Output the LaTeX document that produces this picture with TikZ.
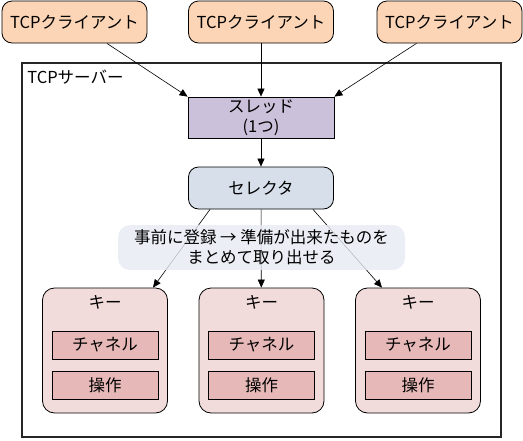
\documentclass[tikz,border=0pt]{standalone}
\usepackage{fontspec}
\setmainfont{Noto Sans CJK JP}
\usepackage{xcolor}
\usetikzlibrary{arrows.meta}
\definecolor{clientfill}{HTML}{FBD5B5}
\definecolor{threadfill}{HTML}{CCC1DA}
\definecolor{selectorfill}{HTML}{D6DFEA}
\definecolor{notefill}{HTML}{E6EBF2}
\definecolor{keyfill}{HTML}{F2DCDB}
\definecolor{slotfill}{HTML}{E6B9B8}

\begin{document}
\begin{tikzpicture}[x=1pt,y=-1pt,->,>={Triangle[length=8pt,width=7pt]},line width=0.6pt,
  every node/.style={font=\fontsize{16.5}{20}\selectfont,inner sep=0pt},
  client/.style={shape=rectangle,rounded corners=10pt,draw=black,line width=0.8pt,fill=clientfill,minimum width=145pt,minimum height=42pt},
  server/.style={shape=rectangle,draw=black!85,line width=2pt,minimum width=479pt,minimum height=374pt},
  thread/.style={shape=rectangle,draw=black,line width=0.8pt,fill=threadfill,minimum width=146pt,minimum height=41pt,align=center},
  selector/.style={shape=rectangle,rounded corners=10pt,draw=black,line width=0.8pt,fill=selectorfill,minimum width=145pt,minimum height=42pt},
  note/.style={shape=rectangle,rounded corners=12pt,fill=notefill,fill opacity=0.8,text opacity=1,minimum width=287pt,minimum height=45pt,align=center},
  key/.style={shape=rectangle,rounded corners=12pt,draw=black,line width=0.8pt,fill=keyfill,minimum width=125pt,minimum height=125pt},
  slot/.style={shape=rectangle,draw=black,line width=0.8pt,fill=slotfill,minimum width=106pt,minimum height=28pt}]
\useasboundingbox (0,0) rectangle (523,440);
\node[server] (0) at (261.5,250) {};
\node[anchor=west] (00) at (27,77) {TCPサーバー};
\node[client] (1) at (74.5,22) {TCPクライアント};
\node[client] (2) at (261,22) {TCPクライアント};
\node[client] (3) at (449.5,22) {TCPクライアント};
\node[thread] (4) at (261,117.5) {スレッド\\(1つ)};
\node[selector] (5) at (261,188) {セレクタ};
\node[key] (6) at (105,350.5) {};
\node[key] (7) at (261.5,350.5) {};
\node[key] (8) at (418,350.5) {};
\node (61) at (105,302) {キー};
\node (71) at (261.5,302) {キー};
\node (81) at (418,302) {キー};
\node[slot] (62) at (105,345) {チャネル};
\node[slot] (72) at (261.5,345) {チャネル};
\node[slot] (82) at (418,345) {チャネル};
\node[slot] (63) at (105,385.5) {操作};
\node[slot] (73) at (261.5,385.5) {操作};
\node[slot] (83) at (418,385.5) {操作};
\path (1) edge (4.north west);
\path (2) edge (4);
\path (3) edge (4.north east);
\path (4) edge (5);
\path ([xshift=-51pt]5.south) edge ([xshift=48pt]6.north);
\path (5) edge (7);
\path ([xshift=52pt]5.south) edge ([xshift=-36pt]8.north);
%\node at (261.5,247.5) {};
\node[note] (9) at (261.5,247.5) {事前に登録 → 準備が出来たものを\\まとめて取り出せる};
\end{tikzpicture}
\end{document}
